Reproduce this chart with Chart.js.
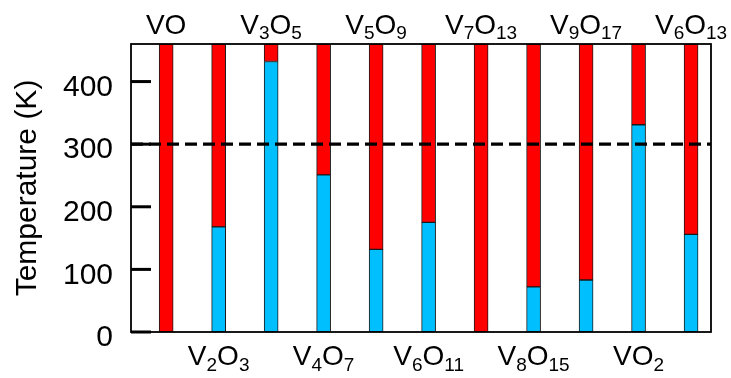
<!DOCTYPE html>
<html><head><meta charset="utf-8">
<script src="https://cdn.jsdelivr.net/npm/chart.js@4/dist/chart.umd.min.js"></script>
<style>html,body{margin:0;padding:0;background:#fff;}</style>
</head><body>
<canvas id="c" width="731" height="378"></canvas>
<script>
// ---- data ----
const compounds = ["VO","V2O3","V3O5","V4O7","V5O9","V6O11","V7O13","V8O15","V9O17","VO2","V6O13"];
const transitionK = [0,168,432,251,132,175,0,72,83,331,156];   // blue (insulating) part top
const topK = 460;                                                // red (metallic) part top / axis max
const yTicks = [0,100,200,300,400];
const roomTempK = 300;

const FONT = '"Liberation Sans", Arial, Helvetica, sans-serif';
const xMin = -0.67, xMax = 10.38;

const blueData = compounds.map((c,i) => ({x:i, y: transitionK[i] > 0 ? [0, transitionK[i]] : null}));
const redData  = compounds.map((c,i) => ({x:i, y: [transitionK[i], topK]}));
const lineData = [{x:xMin, y:roomTempK},{x:xMax, y:roomTempK}];

function drawFormula(ctx, str, cx, baseY, mainSize, subSize, subDrop){
  const parts = str.match(/[A-Za-z]+|\d+/g);
  let total = 0;
  const segs = parts.map(p => {
    const sub = /\d/.test(p);
    ctx.font = (sub ? subSize : mainSize) + 'px ' + FONT;
    const w = ctx.measureText(p).width; total += w;
    return {p, sub, w};
  });
  let x = cx - total/2;
  ctx.textAlign = 'left'; ctx.textBaseline = 'alphabetic'; ctx.fillStyle = '#000';
  segs.forEach(s => {
    ctx.font = (s.sub ? subSize : mainSize) + 'px ' + FONT;
    ctx.fillText(s.p, x, baseY + (s.sub ? subDrop : 0));
    x += s.w;
  });
}

const decor = {
  id:'decor',
  afterDraw(chart){
    const ctx = chart.ctx, a = chart.chartArea, xs = chart.scales.x, ys = chart.scales.y;
    ctx.save();
    ctx.setLineDash([]);
    // frame
    ctx.strokeStyle = '#000';
    ctx.lineWidth = 1.8;
    ctx.strokeRect(a.left, a.top, a.right - a.left, a.bottom - a.top);
    // inward tick marks (drawn at the y-scale's tick pixels)
    ctx.fillStyle = '#000';
    yTicks.forEach(v => {
      const py = ys.getPixelForValue(v);
      ctx.fillRect(a.left, py - 1.5, 20, 3);
    });
    // category labels, alternating top / bottom
    compounds.forEach((c,i) => {
      const cx = xs.getPixelForValue(i);
      if (i % 2 === 0) drawFormula(ctx, c, cx, a.top - 10, 28, 19, 5);
      else drawFormula(ctx, c, cx, a.bottom + 33, 28, 19, 6);
    });
    ctx.restore();
  }
};

new Chart(document.getElementById('c'), {
  data: {
    datasets: [
      {type:'line', data: lineData, borderColor:'#000', borderWidth:3.2, borderDash:[12,6],
       pointRadius:0, order:0},
      {type:'bar', data: blueData, backgroundColor:'#00bfff', borderColor:'#1a1a1a', borderWidth:1,
       borderSkipped:false, barThickness:14, grouped:false, order:1},
      {type:'bar', data: redData, backgroundColor:'#ff0000', borderColor:'#1a1a1a', borderWidth:1,
       borderSkipped:false, barThickness:14, grouped:false, order:1}
    ]
  },
  options: {
    responsive:false, animation:false, devicePixelRatio:1,
    layout:{padding:{left:0, right:20, top:44, bottom:46}},
    plugins:{legend:{display:false}, tooltip:{enabled:false}},
    scales:{
      x:{type:'linear', min:xMin, max:xMax, offset:false, display:false},
      y:{type:'linear', min:0, max:topK,
         afterBuildTicks: s => { s.ticks = yTicks.map(v => ({value:v})); },
         grid:{display:false, drawTicks:false, tickLength:0},
         border:{display:false},
         ticks:{font:{family:FONT, size:30}, color:'#000', padding:18, labelOffset:6},
         title:{display:true, text:'Temperature (K)', color:'#000',
                font:{family:FONT, size:30, lineHeight:1.2}, padding:{top:10, bottom:0}},
         afterFit: s => { s.width = 131; }
      }
    }
  },
  plugins:[decor]
});
</script>
</body></html>
